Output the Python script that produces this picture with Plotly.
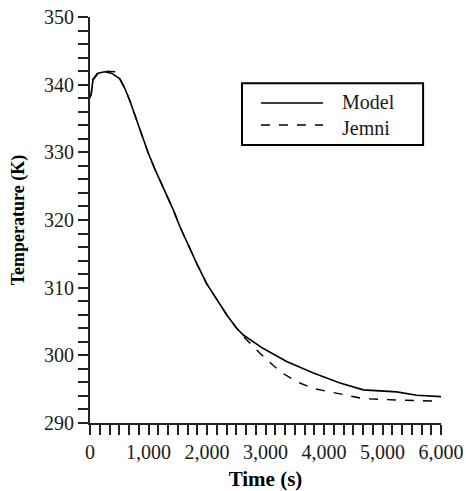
import plotly.graph_objects as go

# Data
time_model = [0, 22, 51, 137, 250, 365, 507, 593, 678, 792, 877, 991, 1105, 1219,
              1333, 1424, 1538, 1709, 1823, 1994, 2165, 2336, 2507, 2621, 2963,
              3362, 3818, 4274, 4672, 5242, 5584, 6000]
temp_model = [338.2, 338.7, 340.7, 341.7, 341.9, 341.7, 340.9, 339.5, 337.7, 334.9,
              332.6, 330.0, 327.6, 325.4, 323.4, 321.5, 319.0, 315.6, 313.6, 310.6,
              308.2, 306.0, 304.0, 303.0, 301.0, 299.1, 297.4, 295.9, 294.9, 294.6,
              294.1, 293.9]

time_jemni = [0, 22, 51, 137, 250, 365, 450, 507, 593, 678, 792, 877, 991, 1105,
              1219, 1333, 1424, 1538, 1709, 1823, 1994, 2165, 2336, 2507, 2621,
              2906, 3248, 3533, 3818, 4103, 4672, 5242, 6000]
temp_jemni = [338.0, 338.7, 340.8, 341.8, 342.0, 342.0, 341.9, 340.9, 339.5, 337.7,
              334.9, 332.6, 330.0, 327.6, 325.4, 323.4, 321.5, 319.0, 315.6, 313.6,
              310.6, 308.2, 306.0, 304.0, 302.8, 300.3, 297.6, 296.1, 295.1, 294.6,
              293.6, 293.4, 293.2]

series_names = ["Model", "Jemni"]

FONT = "Times New Roman, Liberation Serif, serif"

fig = go.Figure()
fig.add_trace(go.Scatter(x=time_model, y=temp_model, mode="lines",
                         name=series_names[0], showlegend=False,
                         line=dict(color="black", width=1.6)))
fig.add_trace(go.Scatter(x=time_jemni, y=temp_jemni, mode="lines",
                         name=series_names[1], showlegend=False,
                         line=dict(color="black", width=1.4, dash="dash")))

axis_common = dict(showgrid=False, zeroline=False, showline=True, linecolor="#222",
                   linewidth=2, ticks="outside", ticklen=10, tickwidth=2, automargin=False,
                   tickcolor="#222", tickfont=dict(family=FONT, size=20, color="#1a1a1a"))

fig.update_xaxes(range=[0, 6000], dtick=1000, tickformat=",",
                 minor=dict(dtick=1000 / 6, ticks="outside", ticklen=10,
                            tickwidth=2, tickcolor="#222"),
                 title=dict(text="<b>Time (s)</b>", font=dict(family=FONT, size=21, color="black"),
                            standoff=12),
                 **axis_common)
fig.update_yaxes(range=[290, 350], dtick=10,
                 minor=dict(dtick=2, ticks="outside", ticklen=10,
                            tickwidth=2, tickcolor="#222"),
                 title=dict(text="<b>Temperature (K)</b>", font=dict(family=FONT, size=18, color="black"),
                            standoff=15),
                 **axis_common)

# Legend box drawn in paper coordinates
fig.add_shape(type="rect", xref="paper", yref="paper", x0=0.433, x1=0.949, y0=0.685, y1=0.837,
              line=dict(color="black", width=2), fillcolor="white")
fig.add_shape(type="line", xref="paper", yref="paper", x0=0.487, x1=0.664, y0=0.788, y1=0.788,
              line=dict(color="black", width=1.6))
fig.add_shape(type="line", xref="paper", yref="paper", x0=0.487, x1=0.664, y0=0.734, y1=0.734,
              line=dict(color="black", width=1.4, dash="dash"))
fig.add_annotation(xref="paper", yref="paper", x=0.712, y=0.790, text=series_names[0],
                   showarrow=False, xanchor="left", yanchor="middle",
                   font=dict(family=FONT, size=20, color="#1a1a1a"))
fig.add_annotation(xref="paper", yref="paper", x=0.712, y=0.727, text=series_names[1],
                   showarrow=False, xanchor="left", yanchor="middle",
                   font=dict(family=FONT, size=20, color="#1a1a1a"))

fig.update_layout(width=466, height=491, margin=dict(l=90, r=25, t=17, b=68),
                  plot_bgcolor="white", paper_bgcolor="white")

fig.write_html("out.html")
